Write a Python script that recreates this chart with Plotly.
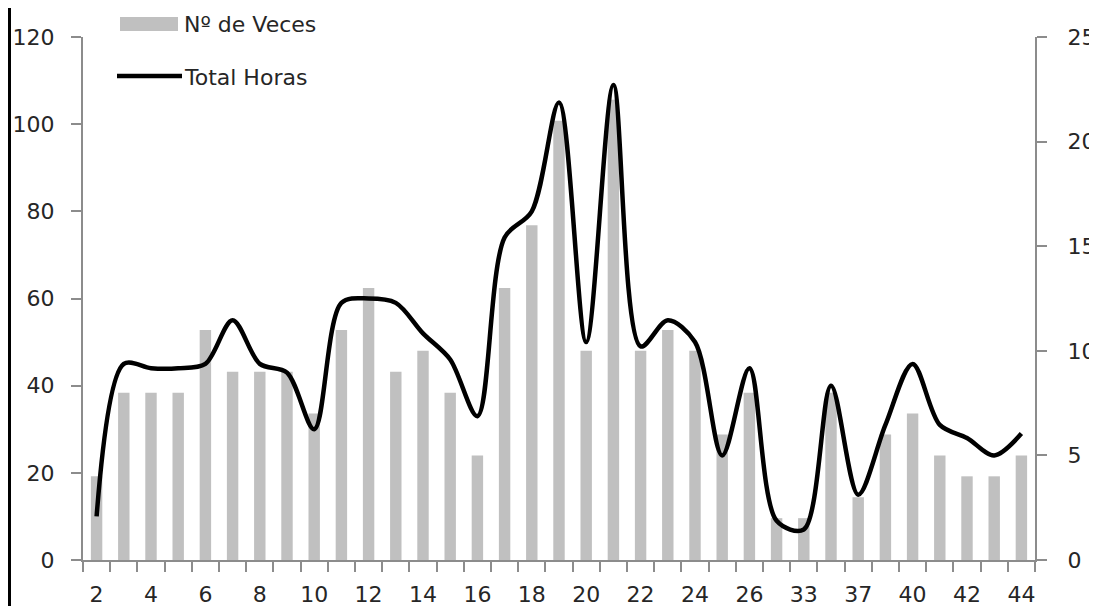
import plotly.graph_objects as go

# categorías del eje X (sólo se rotulan una de cada dos)
categorias = ["2", "3", "4", "5", "6", "7", "8", "9", "10", "11", "12", "13",
              "14", "15", "16", "17", "18", "19", "20", "21", "22", "23", "24",
              "25", "26", "28", "33", "35", "37", "38", "40", "41", "42", "43", "44"]
n_veces = [4, 8, 8, 8, 11, 9, 9, 9, 7, 11, 13, 9, 10, 8, 5, 13, 16, 21, 10, 22,
           10, 11, 10, 6, 8, 2, 2, 8, 3, 6, 7, 5, 4, 4, 5]
total_horas = [10, 45, 44, 44, 45, 55, 45, 43, 30, 59, 60, 59, 52, 46, 33, 74, 80,
               105, 50, 109, 49, 55, 50, 24, 44, 9, 7, 40, 15, 31, 45, 31, 28, 24, 29]

W, H = 1097, 606
OFF = 8  # margen por defecto del <body> de la página
# área de trazado en píxeles de pantalla: x 83..1035, y 37..560
L, T = 83 - OFF, 37 - OFF
R, B = W - (1035 - OFF), H - (560 - OFF)
FONT = dict(family="DejaVu Sans", size=22, color="#262626")
AXIS = "#8c8c8c"

pos = list(range(len(categorias)))
bordes = [p - 0.5 for p in pos] + [pos[-1] + 0.5]


def px(x):
    return (x - OFF - L) / (W - L - R)


def py(y):
    return (H - B - (y - OFF)) / (H - T - B)


fig = go.Figure()
# barras en el eje derecho (y), línea en el izquierdo (y2, superpuesto) para que quede encima
fig.add_trace(go.Bar(
    x=pos, y=n_veces, name="Nº de Veces", yaxis="y",
    marker=dict(color="#c0c0c0", line_width=0),
))
fig.add_trace(go.Scatter(
    x=pos, y=total_horas, name="Total Horas", mode="lines", yaxis="y2",
    line=dict(color="black", width=4.5, shape="spline", smoothing=0.9),
))

fig.update_layout(
    width=W, height=H,
    margin=dict(l=L, r=R, t=T, b=B, autoexpand=False),
    paper_bgcolor="white", plot_bgcolor="white",
    font=FONT, showlegend=False, bargap=0.58,
    xaxis=dict(
        range=[-0.5, len(pos) - 0.5], automargin=False,
        tickmode="array", tickvals=pos[::2], ticktext=categorias[::2],
        ticks="", showgrid=False, zeroline=False,
        showline=True, linecolor=AXIS, linewidth=2,
        ticklabelstandoff=14,
        minor=dict(tickmode="array", tickvals=bordes, ticks="outside",
                   ticklen=10, tickwidth=2, tickcolor=AXIS, showgrid=False),
    ),
    yaxis=dict(
        range=[0, 25], dtick=5, side="right", automargin=False,
        showgrid=False, zeroline=False,
        showline=True, linecolor=AXIS, linewidth=2,
        ticks="outside", ticklen=10, tickwidth=2, tickcolor=AXIS,
        ticklabelstandoff=16,
    ),
    yaxis2=dict(
        range=[0, 120], dtick=20, overlaying="y", side="left", automargin=False,
        showgrid=False, zeroline=False,
        showline=True, linecolor=AXIS, linewidth=2,
        ticks="outside", ticklen=10, tickwidth=2, tickcolor=AXIS,
        ticklabelstandoff=12,
    ),
)

# leyenda dibujada a mano (muestra ancha como en el original)
fig.add_shape(type="rect", xref="paper", yref="paper",
              x0=px(120), x1=px(178), y0=py(31), y1=py(17),
              fillcolor="#c0c0c0", line_width=0)
fig.add_shape(type="line", xref="paper", yref="paper",
              x0=px(117), x1=px(182), y0=py(76), y1=py(76),
              line=dict(color="black", width=4.5))
fig.add_annotation(text="Nº de Veces", xref="paper", yref="paper",
                   x=px(182), y=py(24), xanchor="left", yanchor="middle",
                   showarrow=False, font=FONT)
fig.add_annotation(text="Total Horas", xref="paper", yref="paper",
                   x=px(182), y=py(77), xanchor="left", yanchor="middle",
                   showarrow=False, font=FONT)

# bordes del marco (lo más cerca posible del borde de la página)
fig.add_shape(type="line", xref="paper", yref="paper",
              x0=px(9.5), x1=px(9.5), y0=py(606), y1=py(8),
              line=dict(color="black", width=3))
fig.add_shape(type="line", xref="paper", yref="paper",
              x0=px(1095), x1=px(1095), y0=py(606), y1=py(8),
              line=dict(color="#404040", width=2))

fig.write_html("out.html")
